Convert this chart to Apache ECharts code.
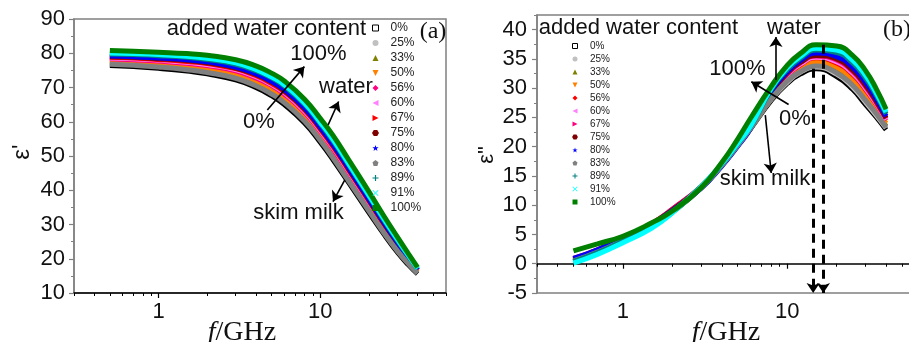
<!DOCTYPE html>
<html><head><meta charset="utf-8">
<script src="https://cdn.jsdelivr.net/npm/echarts@6/dist/echarts.min.js"></script>
<style>html,body{margin:0;padding:0;background:#fff}#c{width:909px;height:342px}</style>
</head><body><div id="c"></div>
<script>
// ---------- data ----------
const freqGHz = [0.5, 0.7, 1, 1.5, 2, 3, 4, 5, 6, 8, 10, 12, 15, 20, 25, 30, 35, 40];
const contentNames = ['0%','25%','33%','50%','56%','60%','67%','75%','80%','83%','89%','91%','100%'];

// (a) real permittivity eps'
const realW0   = [76.4, 76.1, 75.6, 74.8, 74.0, 72.2, 70.0, 67.6, 65.0, 59.6, 54.0, 48.9, 42.2, 33.5, 26.9, 21.9, 18.3, 15.6];
const realW25  = [77.0, 76.7, 76.3, 75.5, 74.8, 73.0, 70.9, 68.5, 66.0, 60.6, 55.0, 49.9, 43.1, 34.4, 27.6, 22.5, 18.8, 15.9];
const realW33  = [77.4, 77.1, 76.6, 75.9, 75.2, 73.5, 71.4, 69.1, 66.5, 61.1, 55.5, 50.5, 43.7, 34.8, 28.1, 22.9, 19.0, 16.0];
const realW50  = [77.8, 77.5, 77.1, 76.4, 75.7, 74.1, 72.0, 69.7, 67.2, 61.8, 56.2, 51.2, 44.3, 35.5, 28.6, 23.3, 19.4, 16.2];
const realW56  = [78.4, 78.1, 77.7, 77.1, 76.4, 74.9, 72.8, 70.6, 68.1, 62.8, 57.2, 52.1, 45.2, 36.3, 29.3, 23.9, 19.8, 16.5];
const realW60  = [78.6, 78.4, 78.0, 77.4, 76.7, 75.2, 73.2, 70.9, 68.5, 63.1, 57.5, 52.5, 45.6, 36.6, 29.6, 24.2, 20.0, 16.6];
const realW67  = [78.8, 78.6, 78.2, 77.6, 77.0, 75.5, 73.5, 71.2, 68.8, 63.5, 57.9, 52.8, 45.9, 36.9, 29.8, 24.4, 20.1, 16.7];
const realW75  = [79.0, 78.8, 78.4, 77.9, 77.2, 75.7, 73.8, 71.6, 69.1, 63.8, 58.2, 53.2, 46.2, 37.2, 30.1, 24.6, 20.3, 16.7];
const realW80  = [79.2, 79.0, 78.6, 78.1, 77.5, 76.0, 74.0, 71.8, 69.4, 64.1, 58.5, 53.4, 46.5, 37.4, 30.3, 24.8, 20.4, 16.8];
const realW83  = [76.8, 76.5, 76.0, 75.2, 74.4, 72.7, 70.5, 68.1, 65.6, 60.2, 54.6, 49.5, 42.7, 34.0, 27.3, 22.3, 18.6, 15.8];
const realW89  = [79.8, 79.6, 79.3, 78.8, 78.2, 76.8, 74.9, 72.8, 70.4, 65.1, 59.5, 54.4, 47.4, 38.3, 31.0, 25.4, 20.9, 17.1];
const realW91  = [80.1, 79.9, 79.6, 79.1, 78.5, 77.2, 75.3, 73.1, 70.8, 65.5, 59.9, 54.9, 47.8, 38.6, 31.4, 25.7, 21.1, 17.2];
const realW100 = [80.8, 80.6, 80.3, 79.9, 79.4, 78.1, 76.3, 74.2, 71.9, 66.6, 61.0, 56.0, 48.9, 39.6, 32.2, 26.4, 21.6, 17.5];

// (b) loss factor eps''
const lossW0   = [0.3, 1.8, 3.8, 6.3, 8.8, 13.0, 16.8, 20.2, 23.1, 27.9, 30.8, 32.4, 33.3, 32.0, 29.8, 27.2, 25.0, 22.9];
const lossW25  = [0.4, 1.9, 3.9, 6.4, 8.9, 13.1, 16.9, 20.3, 23.2, 28.1, 31.0, 32.7, 33.6, 32.4, 30.2, 27.6, 25.3, 23.2];
const lossW33  = [0.5, 2.0, 4.0, 6.5, 9.0, 13.1, 16.9, 20.3, 23.2, 28.3, 31.3, 33.0, 34.0, 32.9, 30.8, 28.2, 25.8, 23.5];
const lossW50  = [0.6, 2.1, 4.1, 6.6, 9.1, 13.1, 16.9, 20.3, 23.3, 28.6, 31.7, 33.5, 34.5, 33.6, 31.5, 28.9, 26.4, 24.0];
const lossW56  = [0.9, 2.4, 4.4, 6.9, 9.3, 13.2, 17.0, 20.4, 23.4, 29.0, 32.2, 34.0, 35.2, 34.3, 32.4, 29.8, 27.2, 24.5];
const lossW60  = [0.7, 2.2, 4.2, 6.7, 9.2, 13.1, 16.9, 20.3, 23.3, 29.1, 32.3, 34.1, 35.3, 34.5, 32.6, 30.0, 27.3, 24.6];
const lossW67  = [0.8, 2.3, 4.3, 6.8, 9.3, 13.2, 17.0, 20.4, 23.4, 29.2, 32.4, 34.3, 35.5, 34.8, 32.9, 30.3, 27.5, 24.8];
const lossW75  = [0.8, 2.3, 4.3, 6.8, 9.2, 13.1, 16.9, 20.3, 23.3, 29.3, 32.6, 34.4, 35.6, 35.0, 33.1, 30.5, 27.7, 24.9];
const lossW80  = [0.9, 2.4, 4.4, 6.8, 9.1, 12.9, 16.7, 20.1, 23.1, 29.5, 32.8, 34.7, 36.0, 35.4, 33.6, 31.0, 28.1, 25.2];
const lossW83  = [0.5, 2.0, 4.0, 6.5, 8.9, 13.0, 16.8, 20.2, 23.2, 28.2, 31.2, 32.8, 33.8, 32.6, 30.5, 27.9, 25.6, 23.3];
const lossW89  = [0.4, 1.9, 3.9, 6.4, 8.9, 13.2, 17.0, 20.5, 23.5, 29.8, 33.2, 35.1, 36.5, 36.1, 34.3, 31.7, 28.7, 25.6];
const lossW91  = [0.1, 1.6, 3.6, 6.1, 8.7, 13.2, 17.1, 20.6, 23.6, 30.0, 33.5, 35.4, 36.8, 36.5, 34.8, 32.2, 29.1, 25.9];
const lossW100 = [2.2, 3.4, 4.7, 7.0, 9.0, 13.0, 17.3, 21.3, 24.9, 30.3, 33.9, 35.9, 37.4, 37.2, 35.6, 33.0, 29.8, 26.4];

// axis ticks
const xMajorTicks = [1, 10];
const xMinorTicks = [0.3, 0.4, 0.5, 0.6, 0.7, 0.8, 0.9, 2, 3, 4, 5, 6, 7, 8, 9, 20, 30, 40, 50, 60];
const yMinorTicksA = [15, 25, 35, 45, 55, 65, 75, 85];
const yMajorTicksB = [-5, 0, 5, 10, 15, 20, 25, 30, 35, 40];
const yMinorTicksB = [-2.5, 2.5, 7.5, 12.5, 17.5, 22.5, 27.5, 32.5, 37.5, 42.5];

// annotation arrows in data coordinates [f1, v1, f2, v2]
const arrowsA = [[4.71, 63.4, 7.98, 76.1], [11.2, 59.1, 13.0, 65.9], [14.2, 43.0, 12.0, 36.7]];
const arrowsB = [[8.54, 31.4, 8.54, 38.75], [10.2, 27.2, 6.05, 31.1], [7.36, 25.4, 8.0, 15.5]];
const peakArrowsB = [[14.4, 33.3, 14.4, -5], [16.6, 37.4, 16.6, -5]];

// ---------- styling ----------
const realSets = [realW0, realW25, realW33, realW50, realW56, realW60, realW67, realW75, realW80, realW83, realW89, realW91, realW100];
const lossSets = [lossW0, lossW25, lossW33, lossW50, lossW56, lossW60, lossW67, lossW75, lossW80, lossW83, lossW89, lossW91, lossW100];
const colorsA = ['#000000','#c0c0c0','#808000','#ff8000','#ff0080','#ff80ff','#ff0000','#800000','#0000ff','#808080','#008080','#00ffff','#008000'];
const colorsB = ['#000000','#c0c0c0','#808000','#ff8000','#ff0000','#ff80ff','#ff0080','#800000','#0000ff','#808080','#008080','#00ffff','#008000'];
const icons = [
  'path://M0,0H10V10H0Z',
  'circle',
  'path://M5,0L10,10L0,10Z',
  'path://M0,0L10,0L5,10Z',
  'path://M5,0L10,5L5,10L0,5Z',
  'path://M10,0L10,10L0,5Z',
  'path://M0,0L10,5L0,10Z',
  'path://M2.5,0.7L7.5,0.7L10,5L7.5,9.3L2.5,9.3L0,5Z',
  'path://M5,0L6.2,3.6L10,3.6L7,5.9L8.1,9.5L5,7.3L1.9,9.5L3,5.9L0,3.6L3.8,3.6Z',
  'path://M5,0L10,3.8L8.1,10L1.9,10L0,3.8Z',
  'path://M4,0H6V4H10V6H6V10H4V6H0V4H4Z',
  'path://M1,0L5,4L9,0L10,1L6,5L10,9L9,10L5,6L1,10L0,9L4,5L0,1Z',
  'path://M0,0H10V10H0Z'
];
const SANS = 'Liberation Sans, Arial, sans-serif';
const SERIF = 'Liberation Serif, Times New Roman, serif';

function legendData(colors) {
  return contentNames.map((n, i) => ({
    name: n, icon: icons[i],
    itemStyle: i === 0 ? {color: '#ffffff', borderColor: '#000', borderWidth: 1}
                       : {color: colors[i], borderWidth: 0}
  }));
}
function arrowLines(list, style, size) {
  return list.map(a => [
    {coord: [a[0], a[1]], lineStyle: style, symbolSize: size},
    {coord: [a[2], a[3]]}
  ]);
}

const grids = [
  {left: 74, top: 19, right: 463, bottom: 49},
  {left: 537, top: 15, right: -6, bottom: 49},
  {left: 74, top: 19, right: 463, bottom: 49},
  {left: 537, top: 15, right: -6, bottom: 49}
].map((g, i) => Object.assign(g, {
  containLabel: false, outerBoundsMode: 'none',
  show: i < 2, borderColor: '#808080', borderWidth: 1.5, backgroundColor: 'transparent'
}));

function mainX(gi) {
  return {
    type: 'log', logBase: 10, gridIndex: gi, min: 0.3, max: 60, position: 'bottom',
    axisLine: {show: true, lineStyle: {color: '#000', width: 1.5}},
    axisTick: {show: true, inside: false, length: 5, customValues: xMajorTicks, lineStyle: {color: '#000', width: 1.2}},
    axisLabel: {show: true, customValues: xMajorTicks, margin: 8, fontSize: 22, fontFamily: SANS, color: '#111'},
    splitLine: {show: false}, minorTick: {show: false}, minorSplitLine: {show: false}
  };
}
function minorX(gi) {
  return {
    type: 'log', logBase: 10, gridIndex: gi, min: 0.3, max: 60, position: 'bottom',
    axisLine: {show: false},
    axisTick: {show: true, inside: false, length: 3, customValues: xMinorTicks, lineStyle: {color: '#000', width: 1}},
    axisLabel: {show: false}, splitLine: {show: false}
  };
}

const option = {
  animation: false,
  backgroundColor: '#ffffff',
  grid: grids,
  xAxis: [mainX(0), mainX(1), minorX(2), minorX(3)],
  yAxis: [
    {type: 'value', gridIndex: 0, min: 10, max: 90, interval: 10,
     axisLine: {show: true, lineStyle: {color: '#808080', width: 1.5}},
     axisTick: {show: true, length: 5, lineStyle: {color: '#808080', width: 1.2}},
     axisLabel: {margin: 9, fontSize: 22, fontFamily: SANS, color: '#111'},
     splitLine: {show: false}},
    {type: 'value', gridIndex: 1, min: -5, max: 42.5, interval: 5,
     axisLine: {show: true, lineStyle: {color: '#808080', width: 1.5}},
     axisTick: {show: true, length: 5, customValues: yMajorTicksB, lineStyle: {color: '#808080', width: 1.2}},
     axisLabel: {margin: 10, fontSize: 22, fontFamily: SANS, color: '#111', customValues: yMajorTicksB},
     splitLine: {show: false}},
    {type: 'value', gridIndex: 2, min: 10, max: 90, interval: 10,
     axisLine: {show: false}, axisLabel: {show: false}, splitLine: {show: false},
     axisTick: {show: true, length: 3, customValues: yMinorTicksA, lineStyle: {color: '#808080', width: 1}}},
    {type: 'value', gridIndex: 3, min: -5, max: 42.5, interval: 5,
     axisLine: {show: false}, axisLabel: {show: false}, splitLine: {show: false},
     axisTick: {show: true, length: 3, customValues: yMinorTicksB, lineStyle: {color: '#808080', width: 1}}}
  ],
  legend: [
    {data: legendData(colorsA), orient: 'vertical', left: 372, top: 22, padding: 0,
     itemWidth: 20, itemHeight: 6, itemGap: 3, symbolKeepAspect: true, selectedMode: false,
     textStyle: {fontSize: 12, lineHeight: 12, fontFamily: SANS, color: '#222'}},
    {data: legendData(colorsB), orient: 'vertical', left: 572, top: 41, padding: 0,
     itemWidth: 20, itemHeight: 5, itemGap: 3, symbolKeepAspect: true, selectedMode: false,
     textStyle: {fontSize: 10, lineHeight: 10, fontFamily: SANS, color: '#222'}}
  ],
  series: [],
  graphic: []
};

contentNames.forEach((n, i) => {
  option.series.push({
    name: n, type: 'line', xAxisIndex: 0, yAxisIndex: 0,
    data: freqGHz.map((f, k) => [f, realSets[i][k]]),
    symbol: 'none', smooth: 0.5, silent: true,
    lineStyle: {color: colorsA[i], width: 5}, itemStyle: {color: colorsA[i]},
    markLine: i === 12 ? {
      silent: true, symbol: ['none', 'arrow'], symbolSize: 10,
      label: {show: false}, emphasis: {disabled: true},
      data: arrowLines(arrowsA, {color: '#000', width: 1.6, type: 'solid'}, 10)
    } : undefined
  });
});
contentNames.forEach((n, i) => {
  option.series.push({
    name: n, type: 'line', xAxisIndex: 1, yAxisIndex: 1,
    data: freqGHz.map((f, k) => [f, lossSets[i][k]]),
    symbol: 'none', smooth: 0.5, silent: true,
    lineStyle: {color: colorsB[i], width: 5}, itemStyle: {color: colorsB[i]},
    markLine: i === 12 ? {
      silent: true, symbol: ['none', 'arrow'], symbolSize: 10,
      label: {show: false}, emphasis: {disabled: true},
      data: arrowLines(arrowsB, {color: '#000', width: 1.6, type: 'solid'}, 10)
        .concat(arrowLines(peakArrowsB, {color: '#000', width: 3, type: [9, 6]}, 12))
    } : undefined
  });
});

function txt(text, x, y, size, extra) {
  return Object.assign({type: 'text', x: x, y: y, z: 100, silent: true,
    style: {text: text, fontSize: size, fontFamily: SANS, fill: '#111', align: 'center', verticalAlign: 'middle'}}, extra || {});
}
const axisTitle = (x) => ({type: 'text', x: x, y: 333, z: 100, silent: true,
  style: {text: '{i|f}/GHz', fontSize: 28, fontFamily: SERIF, fill: '#111', align: 'center', verticalAlign: 'middle',
          rich: {i: {fontStyle: 'italic', fontSize: 28, fontFamily: SERIF, fill: '#111'}}}});

option.graphic = [
  txt('added water content', 266.5, 29, 22),
  txt('100%', 318.5, 54, 22),
  txt('water', 346, 87, 22),
  txt('0%', 259, 122, 22),
  txt('skim milk', 298.5, 213, 22),
  txt('(a)', 433, 32, 24, {style: {text: '(a)', fontSize: 24, fontFamily: SERIF, fill: '#111', align: 'center', verticalAlign: 'middle'}}),
  txt('added water content', 638.5, 27.5, 22),
  txt('water', 794, 27.5, 22),
  txt('100%', 737.5, 68.5, 22),
  txt('0%', 795, 118.5, 22),
  txt('skim milk', 765, 179, 22),
  txt('(b)', 897, 30, 24, {style: {text: '(b)', fontSize: 24, fontFamily: SERIF, fill: '#111', align: 'center', verticalAlign: 'middle'}}),
  axisTitle(242),
  axisTitle(726),
  {type: 'text', x: 22, y: 152, rotation: Math.PI / 2, z: 100, silent: true,
   style: {text: "ε'", fontSize: 24, fontFamily: SANS, fill: '#111', align: 'center', verticalAlign: 'middle'}},
  {type: 'text', x: 487, y: 155, rotation: Math.PI / 2, z: 100, silent: true,
   style: {text: 'ε"', fontSize: 22, fontFamily: SANS, fill: '#111', align: 'center', verticalAlign: 'middle'}}
];

const chart = echarts.init(document.getElementById('c'), null, {renderer: 'canvas'});
chart.setOption(option);
</script>
</body></html>
